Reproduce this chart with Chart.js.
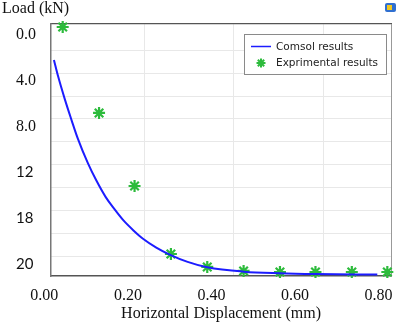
<!DOCTYPE html>
<html>
<head>
<meta charset="utf-8">
<script src="https://cdn.jsdelivr.net/npm/chart.js@4/dist/chart.umd.min.js"></script>
<style>
html,body{margin:0;padding:0;background:#fff;}
#wrap{position:relative;width:403px;height:323px;}
</style>
</head>
<body>
<div id="wrap"><canvas id="c" width="403" height="323"></canvas></div>
<script>
// ---- data ----
const curveX = [0.023, 0.033, 0.049, 0.065, 0.080, 0.104, 0.124, 0.147, 0.167, 0.190, 0.214, 0.237, 0.268, 0.300, 0.343, 0.390, 0.477, 0.562, 0.649, 0.797];
const curveY = [2.18, 3.61, 5.60, 7.41, 9.03, 11.17, 12.67, 14.16, 15.17, 16.22, 17.09, 17.82, 18.57, 19.18, 19.82, 20.29, 20.67, 20.81, 20.88, 20.92];
const expX = [0.044, 0.131, 0.216, 0.303, 0.390, 0.477, 0.564, 0.649, 0.736, 0.821];
const expY = [-0.70, 6.81, 13.19, 19.13, 20.26, 20.61, 20.70, 20.70, 20.70, 20.70];
const xTickValues = [0, 0.2, 0.4, 0.6, 0.8];
const xTickLabels = ['0.00', '0.20', '0.40', '0.60', '0.80'];
const yTickValues = [0, 4, 8, 12, 16, 20];
const yTickLabels = ['0.0', '4.0', '8.0', '12', '18', '20'];
const xGridValues = [0.240, 0.454, 0.668];
const yGridValues = [1.33, 3.33, 5.33, 7.33, 9.33, 11.33, 13.33, 15.33, 17.33, 19.33];
const seriesNames = ['Comsol results', 'Exprimental results'];
const yTitle = 'Load (kN)';
const xTitle = 'Horizontal Displacement (mm)';

const BLUE = '#1c1cff';
const GREEN = '#2dbb3c';

const overlay = {
  id: 'overlay',
  afterDraw(chart) {
    const ctx = chart.ctx;
    ctx.save();
    // y title
    ctx.fillStyle = '#111';
    ctx.font = '16px "Liberation Serif"';
    ctx.textBaseline = 'middle';
    ctx.textAlign = 'left';
    ctx.fillText(yTitle, 2, 9);
    // legend box
    ctx.fillStyle = '#fff';
    ctx.fillRect(244.5, 34.5, 142, 40);
    ctx.strokeStyle = '#8a8a8a';
    ctx.lineWidth = 1;
    ctx.strokeRect(244.5, 34.5, 142, 40);
    ctx.beginPath();
    ctx.moveTo(251, 46.5); ctx.lineTo(271, 46.5);
    ctx.strokeStyle = BLUE; ctx.lineWidth = 1.5; ctx.stroke();
    ctx.strokeStyle = GREEN;
    ctx.fillStyle = GREEN;
    ctx.lineWidth = 2;
    Chart.helpers.drawPoint(ctx, {pointStyle: 'star', radius: 4.5, borderWidth: 2, rotation: 0}, 261, 63);
    ctx.fillStyle = '#222';
    ctx.font = '10.5px "DejaVu Sans"';
    ctx.textBaseline = 'middle';
    ctx.textAlign = 'left';
    ctx.fillText(chart.data.datasets[0].label, 276, 47);
    ctx.fillText(chart.data.datasets[1].label, 276, 63);
    // small icon top-right
    ctx.fillStyle = '#2f6fd0';
    ctx.beginPath();
    ctx.roundRect(385, 3, 11, 9, 2);
    ctx.fill();
    ctx.fillStyle = '#f2c81e';
    ctx.fillRect(387, 5, 5, 5);
    ctx.restore();
  }
};

const chart = new Chart(document.getElementById('c'), {
  type: 'scatter',
  data: {
    datasets: [
      {
        label: seriesNames[0],
        data: curveX.map((x, i) => ({x: x, y: curveY[i]})),
        showLine: true,
        borderColor: BLUE,
        backgroundColor: BLUE,
        borderWidth: 2,
        pointRadius: 0,
        cubicInterpolationMode: 'monotone',
        clip: false
      },
      {
        label: seriesNames[1],
        data: expX.map((x, i) => ({x: x, y: expY[i]})),
        showLine: false,
        pointStyle: 'star',
        pointRadius: 6,
        pointBorderWidth: 2.2,
        borderColor: GREEN,
        backgroundColor: GREEN,
        clip: false
      }
    ]
  },
  options: {
    responsive: false,
    animation: false,
    devicePixelRatio: 1,
    layout: {padding: {left: 16, top: 24, right: 6, bottom: 0}},
    plugins: {legend: {display: false}, tooltip: {enabled: false}, title: {display: false}},
    scales: {
      x: {
        type: 'linear', position: 'bottom', min: 0.016, max: 0.830,
        afterBuildTicks: s => { s.ticks = xTickValues.map(v => ({value: v})); },
        afterFit: s => { s.height = 47; },
        grid: {display: false, drawTicks: false},
        border: {display: true, color: '#555', width: 1.5},
        ticks: {
          autoSkip: false, maxRotation: 0, padding: 10, color: '#111',
          font: {family: '"Liberation Serif"', size: 16},
          callback: (v, i) => xTickLabels[i]
        },
        title: {display: true, text: xTitle, color: '#111', padding: {top: 0, bottom: 0},
          font: {family: '"Liberation Serif"', size: 16, lineHeight: 1.2}}
      },
      xg: {
        type: 'linear', position: 'top', min: 0.016, max: 0.830,
        afterBuildTicks: s => { s.ticks = xGridValues.map(v => ({value: v})); },
        afterFit: s => { s.height = 0; },
        grid: {display: true, color: '#e8e8e8', lineWidth: 1, drawTicks: false},
        border: {display: true, color: '#555', width: 1.2},
        ticks: {display: false}
      },
      y: {
        type: 'linear', position: 'left', reverse: true, min: -0.96, max: 21.05,
        afterBuildTicks: s => { s.ticks = yTickValues.map(v => ({value: v})); },
        afterFit: s => { s.width = 35; },
        grid: {display: false, drawTicks: false},
        border: {display: true, color: '#777', width: 1.5},
        ticks: {
          autoSkip: false, crossAlign: 'far', padding: 0, color: '#111',
          font: ctx => ctx.index < 3 ? {family: '"Liberation Serif"', size: 16} : {family: 'Lato', size: 15},
          callback: (v, i) => yTickLabels[i]
        }
      },
      yg: {
        type: 'linear', position: 'right', reverse: true, min: -0.96, max: 21.05,
        afterBuildTicks: s => { s.ticks = yGridValues.map(v => ({value: v})); },
        afterFit: s => { s.width = 0; },
        grid: {display: true, color: '#e8e8e8', lineWidth: 1, drawTicks: false},
        border: {display: true, color: '#999', width: 1},
        ticks: {display: false}
      }
    }
  },
  plugins: [overlay]
});
</script>
</body>
</html>
